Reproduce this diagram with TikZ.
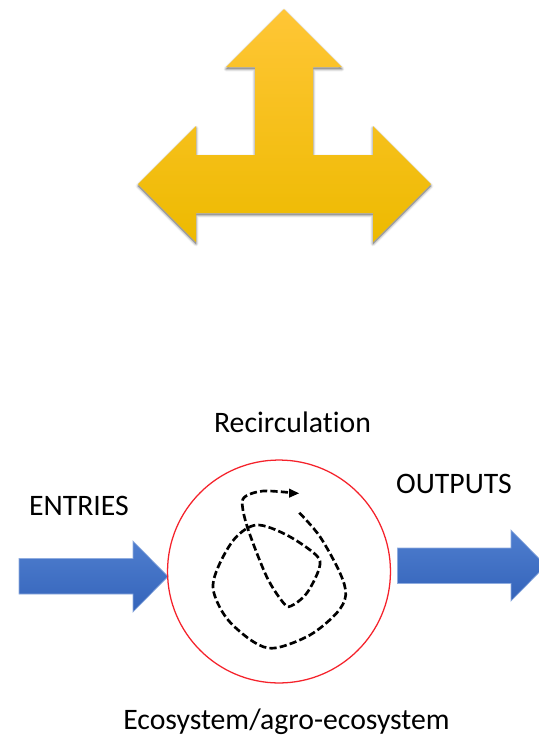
\documentclass[tikz,border=0pt]{standalone}
\usepackage{fontspec}
\setmainfont[Ligatures=NoCommon]{Carlito}
\tikzset{
  x=0.75pt,y=-0.75pt,
  yellowarrow/.style={top color=yellowtop,middle color=yellowmid,bottom color=yellowbot,draw=none},
  halo/.style={draw=black,fill=black,line join=round,draw opacity=#1,fill opacity=#1},
  bluearrow/.style={top color=bluetop,bottom color=bluebot,draw=blueedge,line width=0.5pt,line join=miter},
  ring/.style={draw=ringred,line width=0.95pt},
  loopline/.style={draw=black,line width=2pt,dash pattern=on 5.4pt off 2.4pt,line cap=butt},
  label/.style={inner sep=0pt,text=black,font=\fontsize{22.3}{26}\selectfont,anchor=base}
}
\definecolor{yellowtop}{HTML}{FFC636}
\definecolor{yellowmid}{HTML}{FFC700}
\definecolor{yellowbot}{HTML}{EDBA00}
\definecolor{bluetop}{HTML}{4F7ECF}
\definecolor{bluebot}{HTML}{3464BA}
\definecolor{blueedge}{HTML}{8FACDF}
\definecolor{ringred}{HTML}{F5222B}
\def\yarrow{(284,9) -- (342,67) -- (313,67) -- (313,155) -- (373,155) -- (373,126) -- (431,184) -- (373,242) -- (373,213) -- (196,213) -- (196,242) -- (138,184) -- (196,126) -- (196,155) -- (255,155) -- (255,67) -- (226,67) -- cycle}
\begin{document}
\begin{tikzpicture}
\useasboundingbox (0,0) rectangle (539,736);
\fill[white] (0,0) rectangle (539,736);
% soft shadow of the yellow arrow
\begin{scope}[yshift=-1.5pt]
  \foreach \w/\o in {3.8pt/0.04,2.9pt/0.05,1.9pt/0.07,1pt/0.09}{
    \path[halo=\o,line width=\w] \yarrow;
  }
\end{scope}
\path[yellowarrow] \yarrow;
% blue arrows
\path[bluearrow] (19,558.5) -- (133,558.5) -- (133,541) -- (168,576.5) -- (133,612) -- (133,594) -- (19,594) -- cycle;
\begin{scope}
  \clip (380,510) rectangle (539,620);
  \path[bluearrow] (397.5,548) -- (511,548) -- (511,530) -- (546,565.5) -- (511,601) -- (511,583.5) -- (397.5,583.5) -- cycle;
\end{scope}
% ring
\node[ring,circle,minimum size=167.2pt,inner sep=0pt] (ecosystem) at (279,571.5) {};
% recirculating loop
\draw[loopline] plot[smooth,tension=0.55] coordinates {
 (299.3,512.7) (320,536.7) (340,573) (345.7,595) (336.7,613) (310,635) (275,648) (253.3,641.7)
 (226.7,618.3) (213.3,590) (218.3,566.7) (235,538.3) (256.7,525) (286.7,535) (316,555) (319.3,568)
 (306.7,593.3) (291,606) (283.3,602.7) (266.7,576.7) (248.3,530) (242.3,505) (246,496) (263.3,491) (290,492.6)};
\fill (289,488.5) -- (299,493.3) -- (289,497.8) -- cycle;
% labels
\node[label] (recirc) at (292.5,432) {Recirculation};
\node[label] (entries) at (79,515) {ENTRIES};
\node[label] (outputs) at (454,493) {OUTPUTS};
\node[label] (eco) at (286.5,729.5) {Ecosystem/agro-ecosystem};
\end{tikzpicture}
\end{document}
